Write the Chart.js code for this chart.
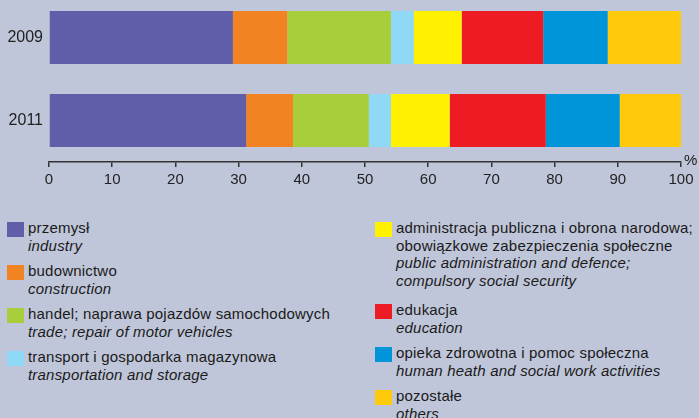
<!DOCTYPE html>
<html>
<head>
<meta charset="utf-8">
<script src="https://cdn.jsdelivr.net/npm/chart.js@4"></script>
<style>
  body { margin: 0; background: #c0c6d9; width: 699px; height: 418px; overflow: hidden; position: relative;
         font-family: "Liberation Sans", Arial, sans-serif; color: #1a1a1a; }
  #wrap { position: absolute; left: 0; top: -4px; width: 699px; height: 196px; }
  #pct { position: absolute; left: 684px; top: 151px; font-size: 15px; }
  .item { position: absolute; font-size: 15px; letter-spacing: 0.2px; line-height: 17.5px; white-space: pre-line; }
  .item .sw { position: absolute; left: -21px; top: 3px; width: 17px; height: 15px; }
  .item i { display: block; }
</style>
</head>
<body>
<div id="wrap"><canvas id="myChart"></canvas></div>
<div id="pct">%</div>
<div id="legend"></div>
<script>
const years = ['2009', '2011'];

const seriesPl = [
    'przemysł',
    'budownictwo',
    'handel; naprawa pojazdów samochodowych',
    'transport i gospodarka magazynowa',
    'administracja publiczna i obrona narodowa;\nobowiązkowe zabezpieczenia społeczne',
    'edukacja',
    'opieka zdrowotna i pomoc społeczna',
    'pozostałe'
];
const seriesEn = [
    'industry',
    'construction',
    'trade; repair of motor vehicles',
    'transportation and storage',
    'public administration and defence;\ncompulsory social security',
    'education',
    'human heath and social work activities',
    'others'
];
const colours = ['#615ea9', '#f28322', '#a8cf3b', '#8fd9f6', '#fff100', '#ed1c24', '#0095d9', '#ffc90b'];

// share of employed, % (2009, 2011)
const industry = [29.1, 31.2];
const construction = [8.6, 7.4];
const trade = [16.4, 12.0];
const transport = [3.6, 3.5];
const administration = [7.6, 9.3];
const education = [12.9, 15.2];
const health = [10.2, 11.7];
const others = [11.6, 9.7];
const values = [industry, construction, trade, transport, administration, education, health, others];

const xTicks = [0, 10, 20, 30, 40, 50, 60, 70, 80, 90, 100];

// legend positions (left column / right column)
const legendPos = [
    [28, 219], [28, 262], [28, 305], [28, 348],
    [396, 219], [396, 301], [396, 344], [396, 387]
];

const legend = document.getElementById('legend');
seriesPl.forEach((name, i) => {
    const div = document.createElement('div');
    div.className = 'item';
    div.style.left = legendPos[i][0] + 'px';
    div.style.top = legendPos[i][1] + 'px';
    const sw = document.createElement('span');
    sw.className = 'sw';
    sw.style.background = colours[i];
    div.appendChild(sw);
    div.appendChild(document.createTextNode(name));
    const en = document.createElement('i');
    en.textContent = seriesEn[i];
    div.appendChild(en);
    legend.appendChild(div);
});

const data = {
    labels: years,
    datasets: values.map((v, i) => ({
        label: seriesPl[i],
        data: v,
        backgroundColor: colours[i],
        borderWidth: 0,
        categoryPercentage: 1,
        barPercentage: 53 / 83
    }))
};

const config = {
    type: 'bar',
    data: data,
    options: {
        indexAxis: 'y',
        responsive: true,
        maintainAspectRatio: false,
        animation: false,
        layout: { padding: { left: 0, right: 18, top: 0, bottom: 0 } },
        plugins: {
            legend: { display: false },
            tooltip: { enabled: false }
        },
        scales: {
            x: {
                stacked: true,
                min: 0,
                max: 100,
                afterBuildTicks: (scale) => { scale.ticks = xTicks.map(v => ({ value: v })); },
                afterFit: (scale) => { scale.height = 30; },
                border: { display: true, color: '#333', width: 1.5 },
                grid: { drawOnChartArea: false, drawTicks: true, tickLength: 5, color: '#333', lineWidth: 1.5 },
                ticks: {
                    padding: 4,
                    color: '#222',
                    maxRotation: 0,
                    font: { family: '"Liberation Sans Narrow", "Liberation Sans", Arial', size: 15 }
                }
            },
            y: {
                stacked: true,
                afterFit: (scale) => {
                    scale.width = 49;
                    scale.paddingTop = 0;
                    scale.paddingBottom = 0;
                },
                border: { display: false },
                grid: { display: false, drawTicks: false },
                ticks: {
                    padding: 6,
                    color: '#222',
                    font: { family: '"Liberation Sans", Arial', size: 16 }
                }
            }
        }
    }
};

const myChart = new Chart(
    document.getElementById('myChart'),
    config
);
</script>
</body>
</html>
